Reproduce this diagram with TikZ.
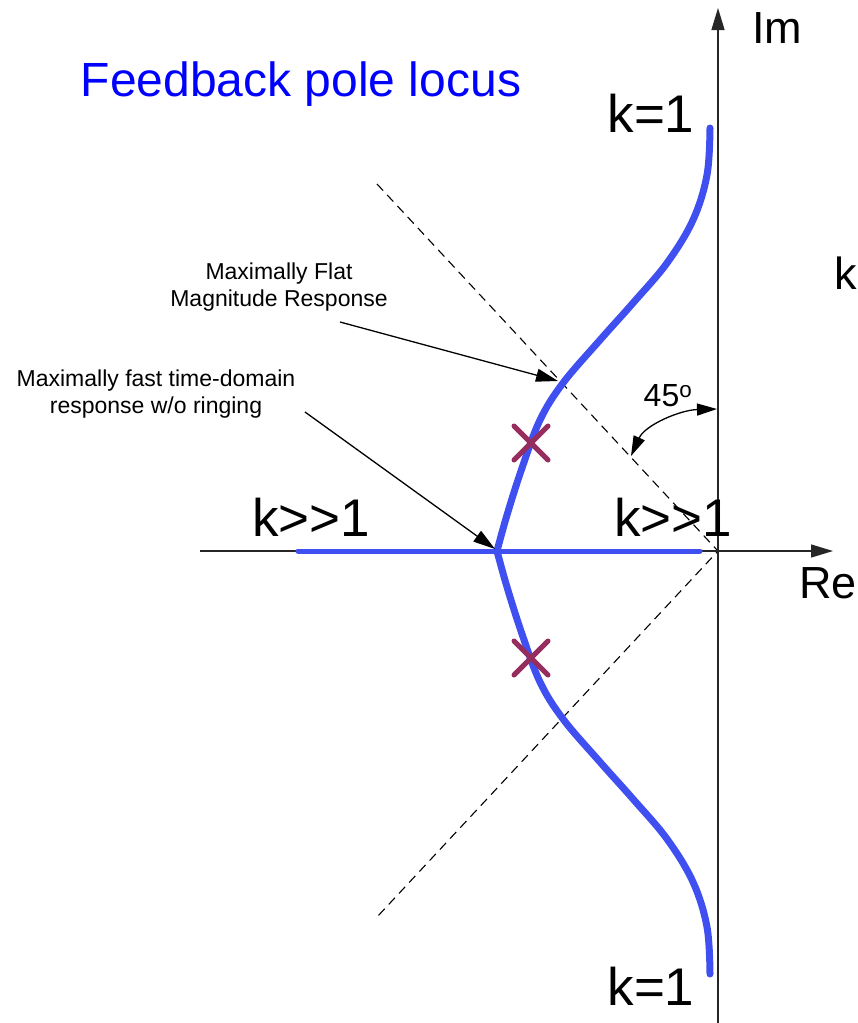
\documentclass[tikz,border=0pt]{standalone}
\usepackage{fontspec}
\setmainfont{Liberation Sans}
\usetikzlibrary{arrows.meta,calc}
\definecolor{locus}{RGB}{64,80,240}
\definecolor{pole}{RGB}{150,45,95}
\tikzset{
  axis/.style={line width=1.4pt,draw=black!85,-{Triangle[length=22pt,width=13pt]}},
  locusline/.style={draw=locus,line width=7pt,line cap=round},
  asym/.style={draw=black,line width=1.1pt,dash pattern=on 9pt off 6pt},
  annot/.style={draw=black,line width=1.3pt,-{Triangle[length=22pt,width=13pt]}},
  polex/.style={draw=pole,line width=5pt,line cap=round},
  big/.style={font=\fontsize{53}{60}\selectfont,inner sep=0pt},
  small/.style={font=\fontsize{23}{27}\selectfont,align=center,inner sep=0pt}
}
\begin{document}
\begin{tikzpicture}[x=1pt,y=-1pt]
\useasboundingbox (0,0) rectangle (857,1023);
\coordinate (O) at (718,551);
\coordinate (imlo) at (718,1023);
\coordinate (imhi) at (718,8);
\coordinate (relo) at (200,551);
\coordinate (rehi) at (833,551);
\coordinate (asA) at (377,184);
\coordinate (asB) at (377,917);
\coordinate (cusp) at (497,551);
\coordinate (hl) at (298,551);
\coordinate (hr) at (700,551);
% asymptotes
\draw[asym] (asA) -- (O) -- (asB);
% axes
\draw[axis] (imlo) -- (imhi);
\draw[axis] (relo) -- (rehi);
% horizontal locus
\draw[draw=locus,line width=5pt,line cap=round] (hl) -- (hr);
% locus curve
\draw[locusline] plot[smooth,tension=0.6] coordinates {(710,128) (707,175) (693,220) (667,263) (633,303) (600,340) (563,383) (540,420) (522,468) (507,515) (497,551)};
\draw[locusline] plot[smooth,tension=0.6] coordinates {(710,974) (707,927) (693,882) (667,839) (633,799) (600,762) (563,719) (540,682) (522,634) (507,587) (497,551)};
% poles
\coordinate (p1) at (531,443);
\coordinate (p2) at (531,658);
\draw[polex] ($(p1)+(-17,-17)$) -- ($(p1)+(17,17)$);
\draw[polex] ($(p1)+(-17,17)$) -- ($(p1)+(17,-17)$);
\draw[polex] ($(p2)+(-17,-17)$) -- ($(p2)+(17,17)$);
\draw[polex] ($(p2)+(-17,17)$) -- ($(p2)+(17,-17)$);
% labels
\node[text=blue,font=\fontsize{48}{54}\selectfont,inner sep=0pt] (title) at (301,84) {Feedback pole locus};
\node[big] (k1t) at (651,113) {k=1};
\node[big] (k1b) at (651,986) {k=1};
\node[big] (kgl) at (311,517) {k>\kern0pt>1};
\node[big] (kgr) at (673,517) {k>\kern0pt>1};
\node[font=\fontsize{45}{50}\selectfont,inner sep=0pt] (im) at (777,28) {Im};
\node[font=\fontsize{45}{50}\selectfont,inner sep=0pt,anchor=west] (re) at (799,583) {Re};
\node[font=\fontsize{45}{50}\selectfont,inner sep=0pt,anchor=west] (kr) at (834,273) {k};
\node[font=\fontsize{32}{36}\selectfont,inner sep=0pt] (ang) at (668,396) {45\textsuperscript{o}};
\node[small] (flat) at (279,287) {Maximally Flat\\Magnitude Response};
\node[small] (fast) at (156,394) {Maximally fast time-domain\\response w/o ringing};
% annotation arrows
\coordinate (flatS) at (340,322);
\coordinate (flatE) at (558,381);
\coordinate (fastS) at (305,412);
\coordinate (fastE) at (495,549);
\draw[annot] (flatS) -- (flatE);
\draw[annot] (fastS) -- (fastE);
% angle arc
\coordinate (arcA) at (717,409);
\coordinate (arcB) at (631,456);
\draw[line width=1.3pt,{Triangle[length=20pt,width=12pt]}-{Triangle[length=20pt,width=12pt]}] (arcB) .. controls (645,425) and (680,410) .. (arcA);
\end{tikzpicture}
\end{document}
